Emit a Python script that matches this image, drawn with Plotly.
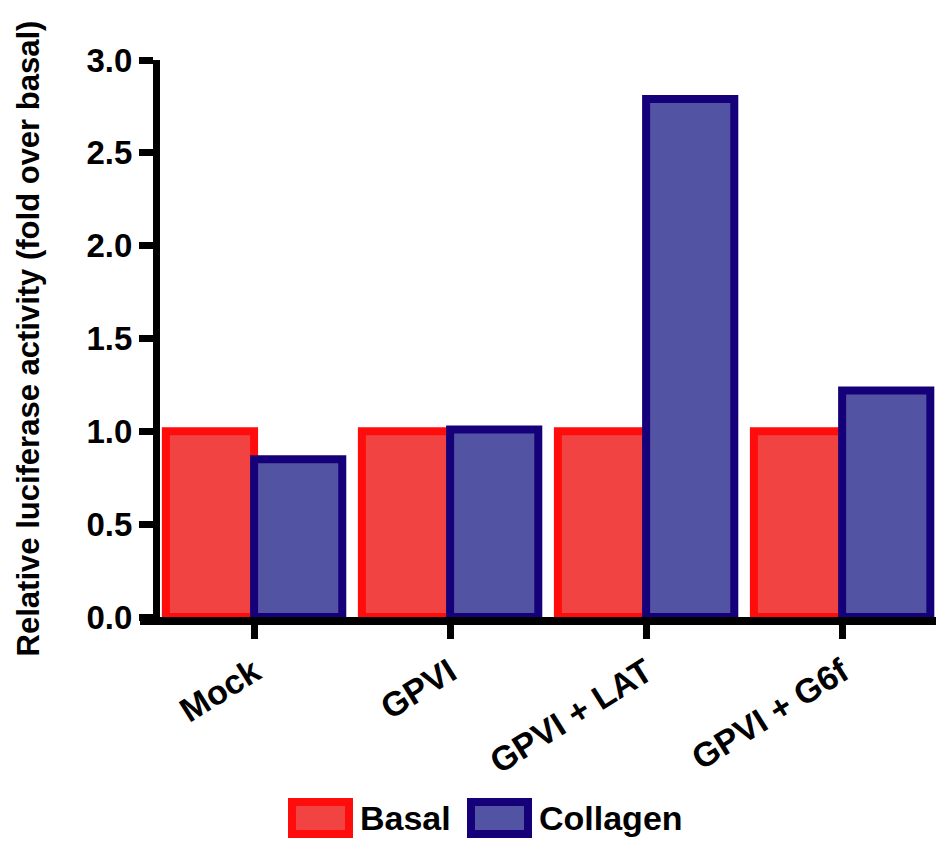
import plotly.graph_objects as go

categories = ["Mock", "GPVI", "GPVI + LAT", "GPVI + G6f"]
basal = [1.0, 1.0, 1.0, 1.0]
collagen = [0.85, 1.01, 2.79, 1.22]
series_names = ["Basal", "Collagen"]
y_ticks = [0.0, 0.5, 1.0, 1.5, 2.0, 2.5, 3.0]
y_title = "Relative luciferase activity (fold over basal)"

fill_colors = ["#f24343", "#5353a3"]
line_colors = ["#ff0d0d", "#16007a"]

W, H = 936, 841
ML, MR, MT, MB = 140, 0, 60, 224
PW, PH = W - ML - MR, H - MT - MB

fig = go.Figure()
for name, vals, fc, lc in zip(series_names, [basal, collagen], fill_colors, line_colors):
    fig.add_trace(go.Bar(
        x=categories, y=vals, name=name, showlegend=False,
        marker=dict(color=fc, line=dict(color=lc, width=8)),
    ))

# Custom legend (large swatches like the original figure)
def px_to_paper(px, py):
    return (px - ML) / PW, (H - MB - py) / PH

legend_items = [(288, 353, 358), (467, 532, 537)]
for (x0, x1, tx), name, fc, lc in zip(legend_items, series_names, fill_colors, line_colors):
    ax0, ay0 = px_to_paper(x0 + 4, 834)
    ax1, ay1 = px_to_paper(x1 - 4, 802)
    fig.add_shape(type="rect", xref="paper", yref="paper", x0=ax0, x1=ax1, y0=ay0, y1=ay1,
                  fillcolor=fc, line=dict(color=lc, width=8), layer="above")
    tx_p, ty_p = px_to_paper(tx, 818)
    fig.add_annotation(xref="paper", yref="paper", x=tx_p, y=ty_p, text=name,
                       xanchor="left", yanchor="middle", showarrow=False,
                       font=dict(size=34, weight="bold", color="black"))

font_family = "Liberation Sans, Arial, sans-serif"
fig.update_layout(
    width=W, height=H,
    margin=dict(l=ML, r=MR, t=MT, b=MB, autoexpand=False),
    paper_bgcolor="white", plot_bgcolor="white",
    barmode="group", bargap=0.10, bargroupgap=0.0,
    font=dict(family=font_family, color="black", size=28, weight="bold"),
    showlegend=False,
    xaxis=dict(
        range=[-0.582, 3.479], showline=True, linewidth=8, linecolor="black",
        ticks="outside", ticklen=14, tickwidth=7, tickcolor="black",
        tickangle=-32, tickfont=dict(size=34, weight="bold"),
        showgrid=False, zeroline=False, automargin=False,
    ),
    yaxis=dict(
        range=[0, 3.0], tickvals=y_ticks, ticktext=[f"{v:.1f}" for v in y_ticks],
        anchor="free", position=0.02,
        showline=True, linewidth=7, linecolor="black",
        ticks="outside", ticklen=14, tickwidth=7, tickcolor="black",
        tickfont=dict(size=33, weight="bold"),
        title=dict(text=y_title, font=dict(size=31, weight="bold"), standoff=36),
        showgrid=False, zeroline=False, automargin=False,
    ),
)

fig.write_html("out.html")
